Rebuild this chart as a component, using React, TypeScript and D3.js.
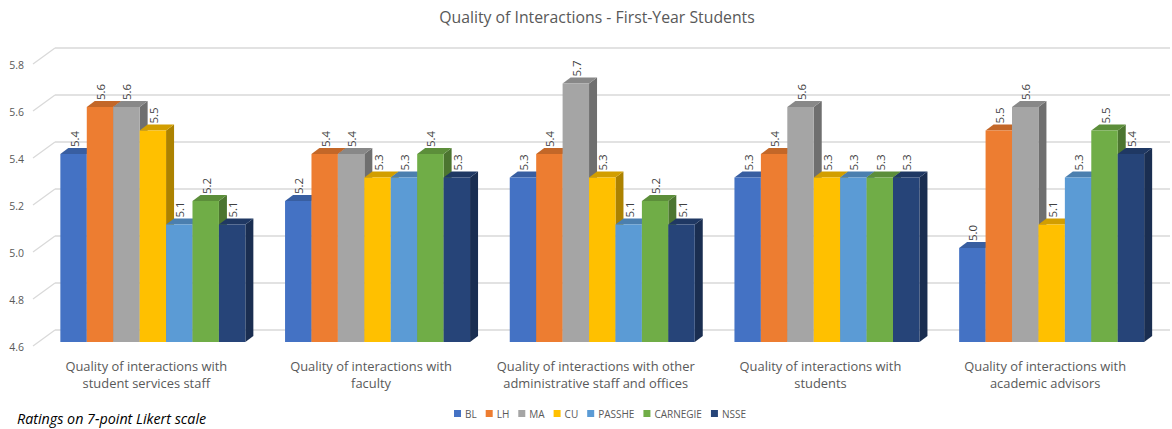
import React, { useMemo } from 'react';
import * as d3 from 'd3';

const categories = [
  ['Quality of interactions with', 'student services staff'],
  ['Quality of interactions with', 'faculty'],
  ['Quality of interactions with other', 'administrative staff and offices'],
  ['Quality of interactions with', 'students'],
  ['Quality of interactions with', 'academic advisors'],
];
const series = ['BL', 'LH', 'MA', 'CU', 'PASSHE', 'CARNEGIE', 'NSSE'];
const seriesColors = ['#4472C4', '#ED7D31', '#A5A5A5', '#FFC000', '#5B9BD5', '#70AD47', '#264478'];

// values[category][series]
const staffValues = [5.4, 5.6, 5.6, 5.5, 5.1, 5.2, 5.1];
const facultyValues = [5.2, 5.4, 5.4, 5.3, 5.3, 5.4, 5.3];
const adminValues = [5.3, 5.4, 5.7, 5.3, 5.1, 5.2, 5.1];
const studentValues = [5.3, 5.4, 5.6, 5.3, 5.3, 5.3, 5.3];
const advisorValues = [5.0, 5.5, 5.6, 5.1, 5.3, 5.5, 5.4];
const values = [staffValues, facultyValues, adminValues, studentValues, advisorValues];

const yTicks = [4.6, 4.8, 5.0, 5.2, 5.4, 5.6, 5.8];

const W = 1172;
const H = 429;
const FONT = '"Open Sans", sans-serif';
const TEXT = '#595959';

// 3D offsets
const barDx = 8;
const barDy = -6;
const wallDx = 22;
const wallDy = -12;

function measure(text: string, font: string) {
  const c = document.createElement('canvas').getContext('2d')!;
  c.font = font;
  return c.measureText(text).width;
}

export default function App() {
  const y = d3.scaleLinear().domain([4.6, 5.8]).range([342, 60]);
  const x0 = d3.scaleBand<number>().domain(d3.range(categories.length)).range([34, 1157.5]);
  const step = x0.bandwidth();
  const groupW = 185;
  const x1 = d3.scaleBand<number>().domain(d3.range(series.length))
    .range([(step - groupW) / 2 + 6.5, (step + groupW) / 2 + 6.5]);
  const bw = x1.bandwidth();

  const legend = useMemo(() => {
    const font = `10px ${FONT}`;
    const items = series.map((s) => ({ s, w: 7 + 4 + measure(s, font) }));
    const gap = 9;
    const total = d3.sum(items, (d) => d.w) + gap * (items.length - 1);
    let cx = 600 - total / 2;
    return items.map((it) => {
      const r = { ...it, x: cx };
      cx += it.w + gap;
      return r;
    });
  }, []);

  const bottom = y(4.6);

  return (
    <svg width={W} height={H} style={{ position: 'absolute', left: 0, top: 0, background: '#fff' }} fontFamily={FONT}>
      <text x={597} y={23} textAnchor="middle" fontSize={15.8} fill={TEXT}>
        Quality of Interactions - First-Year Students
      </text>

      {/* walls */}
      {yTicks.map((t) => (
        <g key={t} stroke="#D9D9D9" strokeWidth={1.3} fill="none">
          <line x1={33} y1={y(t) + 4} x2={33 + wallDx} y2={y(t) + wallDy} />
          <line x1={33 + wallDx} y1={y(t) + wallDy} x2={1170} y2={y(t) + wallDy} />
        </g>
      ))}
      {yTicks.map((t) => (
        <text key={t} x={24} y={y(t) + 9} textAnchor="end" fontSize={10.5} fill={TEXT}>
          {t.toFixed(1)}
        </text>
      ))}

      {/* bars */}
      {values.map((vals, ci) => (
        <g key={ci} transform={`translate(${x0(ci)},0)`}>
          {vals.map((v, si) => {
            const bx = x1(si)!;
            const top = y(v);
            const base = d3.color(seriesColors[si])!;
            const side = base.darker(1.1).formatHex();
            const topC = base.darker(0.55).formatHex();
            return (
              <g key={si}>
                <polygon
                  points={`${bx + bw},${top} ${bx + bw + barDx},${top + barDy} ${bx + bw + barDx},${bottom + barDy} ${bx + bw},${bottom}`}
                  fill={side}
                />
                <polygon
                  points={`${bx},${top} ${bx + barDx},${top + barDy} ${bx + bw + barDx},${top + barDy} ${bx + bw},${top}`}
                  fill={topC}
                />
                <rect x={bx} y={top} width={bw} height={bottom - top} fill={seriesColors[si]} />
                <text
                  transform={`translate(${bx + bw / 2 + 5},${top + barDy - 1}) rotate(-90)`}
                  fontSize={11.5}
                  fill="#404040"
                >
                  {v.toFixed(1)}
                </text>
              </g>
            );
          })}
        </g>
      ))}

      {/* category labels */}
      {categories.map((lines, ci) => (
        <text key={ci} textAnchor="middle" fontSize={12.9} fill={TEXT}>
          {lines.map((l, i) => (
            <tspan key={i} x={x0(ci)! + step / 2} y={370.5 + i * 17.8}>{l}</tspan>
          ))}
        </text>
      ))}

      {/* legend */}
      {legend.map((it, i) => (
        <g key={it.s} transform={`translate(${it.x},${410})`}>
          <rect x={0} y={0} width={7} height={7} fill={seriesColors[i]} />
          <text x={11} y={7.5} fontSize={10} fill={TEXT}>{it.s}</text>
        </g>
      ))}

      <text x={17} y={424} fontSize={14.3} fontStyle="italic" fill="#000">
        Ratings on 7-point Likert scale
      </text>
    </svg>
  );
}
